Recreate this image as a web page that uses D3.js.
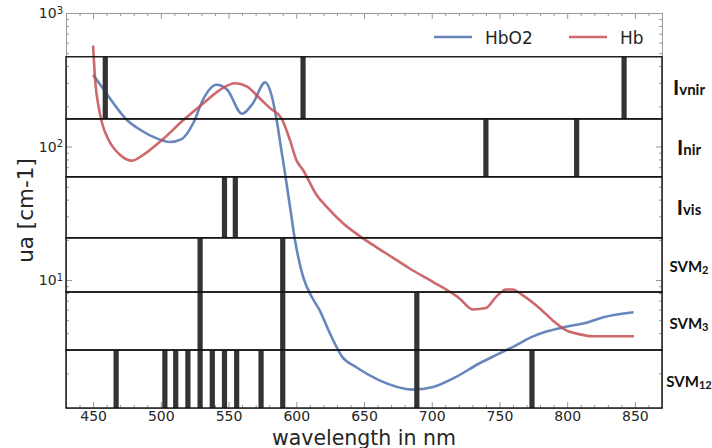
<!DOCTYPE html>
<html>
<head>
<meta charset="utf-8">
<script src="https://cdn.jsdelivr.net/npm/d3@7"></script>
<style>
  body { margin: 0; background: #fff; }
  svg { display: block; }
</style>
</head>
<body>
<div id="chart"></div>
<script>
// absorption spectra
const hbo2Wl = [450, 458, 465, 475, 485, 497, 507, 515, 524, 531, 541, 549, 560, 568, 577, 582, 585.5, 589, 592, 595, 599, 605, 612, 617, 625, 634, 644, 661, 686, 701, 718, 735, 750, 760, 774, 784, 799, 816, 826, 849];
const hbo2Val = [344, 266, 211, 158, 133, 115, 108, 113, 150, 223, 290, 266, 176, 211, 302, 237, 158, 94, 60, 37.6, 20, 10.6, 7.3, 6.0, 3.95, 2.65, 2.23, 1.78, 1.51, 1.58, 1.88, 2.37, 2.82, 3.16, 3.75, 4.09, 4.46, 4.85, 5.24, 5.74];

const hbWl = [450, 451.7, 454, 456.6, 461.5, 470, 478.7, 487, 499.6, 516.7, 531.4, 543.7, 554.8, 563.4, 573, 580.6, 589, 595.3, 600, 605, 615, 622.3, 634.5, 649.3, 666.5, 683.7, 700.8, 720.5, 730.3, 740, 747.5, 754.9, 759.7, 767, 779.4, 789.2, 799, 808.8, 818.6, 849.3];
const hbVal = [569, 298, 200, 150, 112, 86.5, 78.4, 86.5, 109, 158, 211, 266, 298, 282, 230, 194, 163, 112, 79.4, 66.7, 43.3, 35.4, 26.6, 20.5, 15.8, 12.2, 9.7, 7.28, 6.02, 6.17, 7.48, 8.5, 8.5, 7.7, 6.17, 5.0, 4.21, 3.93, 3.79, 3.79];

// wavelength selections, one band per method (top to bottom)
const bandNames = [["I", "vnir"], ["I", "nir"], ["I", "vis"], ["SVM", "2"], ["SVM", "3"], ["SVM", "12"]];
const bandEdges = [470, 161, 59.3, 20.7, 8.13, 2.99, 1.1];
const bandWl = [
  [459, 605, 842],
  [740, 807],
  [547, 555],
  [529, 590],
  [529, 590, 689],
  [467, 503, 511, 520, 529, 538, 547, 556, 574, 590, 689, 774]
];

const xTicks = [450, 500, 550, 600, 650, 700, 750, 800, 850];
const yTicks = [10, 100, 1000];

const width = 712, height = 448;
const margin = { top: 13, right: 50, bottom: 40, left: 66 };

const svg = d3.select("#chart").append("svg")
  .attr("width", width)
  .attr("height", height)
  .style("font-family", "DejaVu Sans, sans-serif");

const x = d3.scaleLinear().domain([430, 870]).range([margin.left, width - margin.right]);
const y = d3.scaleLog().domain([1.1, 1000]).range([height - margin.bottom, margin.top]);

// minor ticks
const xMinor = d3.range(430, 871, 10).filter(v => v % 50 !== 0);
const yMinor = [];
[1, 10, 100].forEach(d => { for (let k = 2; k <= 9; k++) if (k * d >= 1.1) yMinor.push(k * d); });

const tickColor = "#999";
function styleAxis(g) {
  g.select(".domain").attr("stroke", tickColor).attr("stroke-width", 1);
  g.selectAll(".tick line").attr("stroke", tickColor);
  g.selectAll("text").attr("fill", "#262626");
}

const yBot = height - margin.bottom, xRight = width - margin.right;

svg.append("g").attr("transform", `translate(0,${yBot})`)
  .call(d3.axisBottom(x).tickValues(xMinor).tickSize(-3).tickFormat(""))
  .call(styleAxis);
svg.append("g").attr("transform", `translate(0,${margin.top})`)
  .call(d3.axisTop(x).tickValues(xMinor).tickSize(-3).tickFormat(""))
  .call(styleAxis);
svg.append("g").attr("transform", `translate(0,${margin.top})`)
  .call(d3.axisTop(x).tickValues(xTicks).tickSize(-6).tickFormat(""))
  .call(styleAxis);
svg.append("g").attr("transform", `translate(${margin.left},0)`)
  .call(d3.axisLeft(y).tickValues(yMinor).tickSize(-3).tickFormat(""))
  .call(styleAxis);
svg.append("g").attr("transform", `translate(${xRight},0)`)
  .call(d3.axisRight(y).tickValues(yMinor).tickSize(-3).tickFormat(""))
  .call(styleAxis);
svg.append("g").attr("transform", `translate(${xRight},0)`)
  .call(d3.axisRight(y).tickValues(yTicks).tickSize(-6).tickFormat(""))
  .call(styleAxis);

const xAxis = svg.append("g").attr("transform", `translate(0,${yBot})`)
  .call(d3.axisBottom(x).tickValues(xTicks).tickSize(-6).tickPadding(3))
  .call(styleAxis);
xAxis.selectAll("text").attr("font-size", 14).attr("font-family", "DejaVu Sans, sans-serif");

const yAxis = svg.append("g").attr("transform", `translate(${margin.left},0)`)
  .call(d3.axisLeft(y).tickValues(yTicks).tickSize(-6).tickPadding(3).tickFormat(""))
  .call(styleAxis);
yAxis.selectAll(".tick").append("text")
  .attr("x", -3)
  .attr("dy", "0.35em")
  .attr("text-anchor", "end")
  .attr("fill", "#262626")
  .attr("font-size", 14)
  .attr("font-family", "DejaVu Sans, sans-serif")
  .each(function(d) {
    const t = d3.select(this);
    t.append("tspan").text("10");
    t.append("tspan").attr("dy", "-0.45em").attr("font-size", 10).text(Math.round(Math.log10(d)));
  });

// curves
const line = d3.line()
  .x(d => x(d[0]))
  .y(d => y(d[1]))
  .curve(d3.curveMonotoneX);

svg.append("path")
  .datum(hbo2Wl.map((w, i) => [w, hbo2Val[i]]))
  .attr("d", line)
  .attr("fill", "none")
  .attr("stroke", "#4c72b0")
  .attr("stroke-opacity", 0.85)
  .attr("stroke-width", 2.6);

svg.append("path")
  .datum(hbWl.map((w, i) => [w, hbVal[i]]))
  .attr("d", line)
  .attr("fill", "none")
  .attr("stroke", "#c44e52")
  .attr("stroke-opacity", 0.85)
  .attr("stroke-width", 2.6);

// bands with selected wavelengths
const bandLayer = svg.append("g");
bandWl.forEach((wls, i) => {
  const top = y(bandEdges[i]);
  const bot = y(bandEdges[i + 1]);
  bandLayer.selectAll(null)
    .data(wls)
    .enter().append("rect")
    .attr("x", d => x(d) - 2.6)
    .attr("y", top)
    .attr("width", 5.2)
    .attr("height", bot - top)
    .attr("fill", "#333");
  bandLayer.append("rect")
    .attr("x", margin.left)
    .attr("y", top)
    .attr("width", xRight - margin.left)
    .attr("height", bot - top)
    .attr("fill", "none")
    .attr("stroke", "#111")
    .attr("stroke-width", 1.4);

  const lbl = svg.append("text")
    .attr("x", 689)
    .attr("y", (top + bot) / 2 + 7.5)
    .attr("text-anchor", "middle")
    .attr("font-family", "Lato, sans-serif")
    .attr("font-weight", "bold")
    .attr("fill", "#111");
  const big = bandNames[i][0] === "I";
  lbl.append("tspan").attr("font-size", big ? 21 : 15).text(bandNames[i][0]);
  lbl.append("tspan").attr("font-size", big ? 15 : 11).attr("dy", big ? 0 : 2).text(bandNames[i][1]);
});

// legend
const legend = [["HbO2", "#4c72b0", 434], ["Hb", "#c44e52", 569]];
legend.forEach(([name, color, lx]) => {
  svg.append("line")
    .attr("x1", lx).attr("x2", lx + 38)
    .attr("y1", 37).attr("y2", 37)
    .attr("stroke", color)
    .attr("stroke-opacity", 0.85)
    .attr("stroke-width", 2.6);
  svg.append("text")
    .attr("x", lx + 51)
    .attr("y", 43.5)
    .attr("font-size", 17)
    .attr("fill", "#262626")
    .text(name);
});

// axis titles
svg.append("text")
  .attr("x", (margin.left + xRight) / 2)
  .attr("y", 444.5)
  .attr("text-anchor", "middle")
  .attr("font-size", 20.5)
  .attr("fill", "#262626")
  .text("wavelength in nm");

svg.append("text")
  .attr("transform", `translate(33,${(margin.top + yBot) / 2}) rotate(-90)`)
  .attr("text-anchor", "middle")
  .attr("font-size", 21.5)
  .attr("fill", "#262626")
  .text("ua [cm-1]");
</script>
</body>
</html>
